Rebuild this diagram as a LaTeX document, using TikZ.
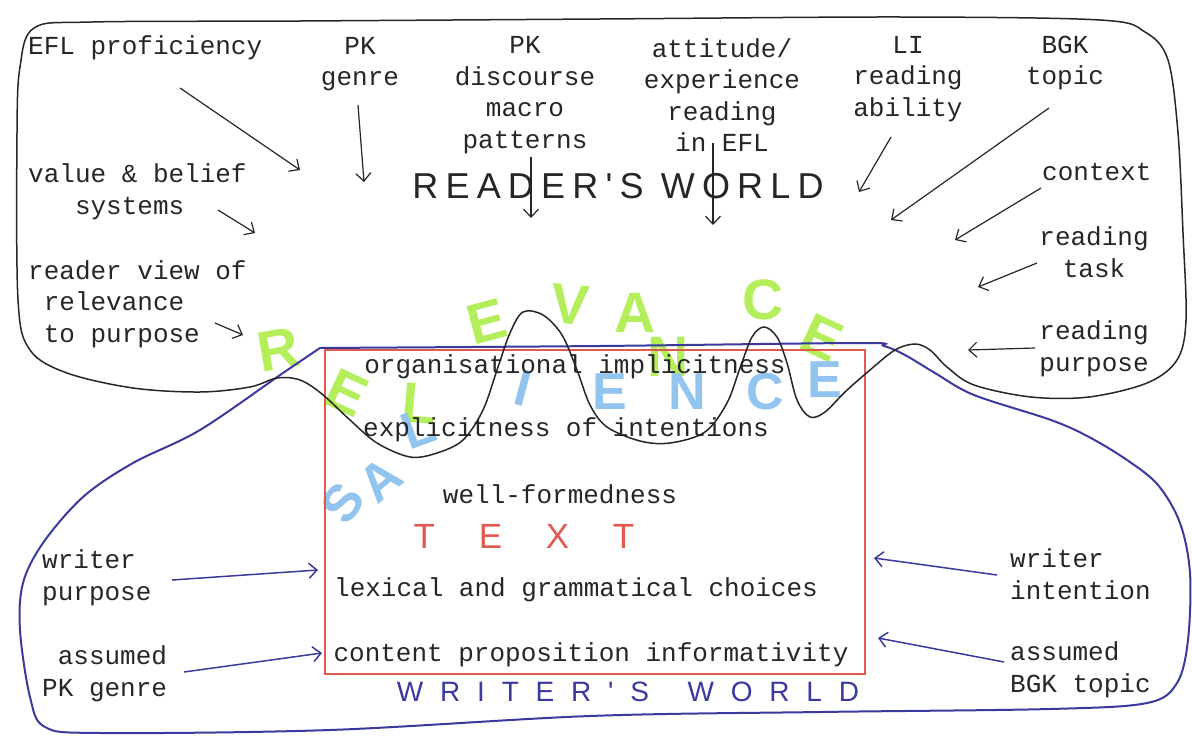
\documentclass[tikz,border=0pt]{standalone}
\usepackage{fontspec}
\setmonofont{Liberation Mono}
\newfontfamily\handfont{Liberation Sans}
\newfontfamily\markerfont{Liberation Sans Bold}
\usepackage{tikz}
\usetikzlibrary{calc, positioning, arrows.meta}
\tikzset{>={Straight Barb[length=8pt,width=15pt]}}
\definecolor{myred}{HTML}{E05A52}
\definecolor{myblue}{HTML}{3A3A9E}
\definecolor{mygreen}{HTML}{B4EE5A}
\definecolor{mysky}{HTML}{92C4F0}
\definecolor{myink}{HTML}{262626}
\tikzset{
	lbl/.style={font=\ttfamily\fontsize{26}{31.5}\selectfont, text=myink, inner sep=0pt},
	hand/.style={font=\handfont\fontsize{#1}{#1}\selectfont, inner sep=0pt},
	relv/.style={font=\markerfont\fontsize{57}{57}\selectfont, text=mygreen, inner sep=0pt},
	sali/.style={font=\markerfont\fontsize{52}{52}\selectfont, text=mysky, inner sep=0pt},
	inkarrow/.style={->, myink, line width=1.2pt},
	penarrow/.style={->, myblue, line width=1.5pt},
}

\begin{document}
\begin{tikzpicture}[x=1pt, y=-1pt]
			\useasboundingbox (0,0) rectangle (1192,736);
			\node (r1) [relv, rotate=10] at (278,350) {R};
			\node (r2) [relv, rotate=-25] at (347,393) {E};
			\node (r3) [relv, rotate=-5] at (420,403) {L};
			\node (r4) [relv, rotate=15] at (487,322) {E};
			\node (r5) [relv, rotate=-5] at (570,305) {V};
			\node (r6) [relv] at (635,313) {A};
			\node (r7) [relv] at (668,357) {N};
			\node (r8) [relv] at (763,300) {C};
			\node (r9) [relv, rotate=-25] at (822,338) {E};
			\node (s1) [sali, rotate=55] at (343,503) {S};
			\node (s2) [sali, rotate=40] at (380,480) {A};
			\node (s3) [sali, rotate=20] at (418,428) {L};
			\node (s4) [sali, rotate=-15] at (523,388) {I};
			\node (s5) [sali] at (610,392) {E};
			\node (s6) [sali] at (687,392) {N};
			\node (s7) [sali] at (765,392) {C};
			\node (s8) [sali] at (825,380) {E};
			\draw [myred, line width=1.3pt] (325,350) rectangle (865,674);
			\draw [myblue, line width=2pt] plot [smooth, tension=0.55] coordinates {(320,348) (600,346) (860,343) (884,346) (905,355) (935,373) (974,395) (1051,420) (1089,437) (1127,460) (1158,485) (1180,523) (1190,573) (1188,640) (1177,683) (1147,703) (1050,709) (820,712) (590,716) (330,730) (100,733) (45,727) (30,697) (20,630) (23,583) (43,543) (83,497) (133,463) (200,430) (283,373) (320,348)};
			\draw [myink, line width=1.5pt] plot [smooth cycle, tension=0.55] coordinates {(34,28) (92,22) (300,21) (600,19) (900,17) (1100,20) (1145,32) (1168,60) (1178,133) (1183,233) (1186,320) (1177,360) (1147,383) (1089,397) (1031,397) (974,385) (947,367) (930,350) (915,344) (895,350) (870,370) (845,392) (825,412) (810,417) (797,400) (787,363) (777,337) (764,327) (752,337) (740,368) (727,403) (705,432) (670,443) (640,441) (607,427) (590,405) (577,370) (562,335) (543,315) (523,312) (510,333) (498,367) (483,410) (463,440) (437,453) (410,457) (377,443) (350,420) (322,394) (300,380) (277,378) (250,387) (200,392) (133,388) (67,373) (30,350) (18,300) (17,133) (20,67)};
			\node (readers) [hand=36, text=myink] at (618,186) {\addfontfeature{LetterSpace=20}READER'S WORLD};
			\node (text) [hand=35, text=myred] at (524,536) {\addfontfeature{LetterSpace=125}TEXT};
			\node (writers) [hand=28, text=myblue] at (628,692) {\addfontfeature{LetterSpace=60}WRITER'S\hspace{14pt} WORLD};
			\node (efl) [lbl, anchor=west] at (28,48) {EFL proficiency};
			\node (pkg) [lbl, align=center] at (360,64) {PK\\genre};
			\node (pkd) [lbl, align=center] at (525,95) {PK\\discourse\\macro\\patterns};
			\node (att) [lbl, align=center] at (722,95) {attitude/\\experience\\reading\\in EFL};
			\node (li) [lbl, align=center] at (908,79) {LI\\reading\\ability};
			\node (bgk) [lbl, align=center] at (1065,63) {BGK\\topic};
			\node (val) [lbl, anchor=west, align=left] at (28,192) {value \& belief\\\hphantom{val}systems};
			\node (rvr) [lbl, anchor=west, align=left] at (28,304) {reader view of\\\hphantom{r}relevance\\\hphantom{r}to purpose};
			\node (ctx) [lbl, anchor=west] at (1042,172) {context};
			\node (task) [lbl, align=center] at (1094,252) {reading\\task};
			\node (purp) [lbl, align=center] at (1094,349) {reading\\purpose};
			\node (org) [lbl] at (575,367) {organisational implicitness};
			\node (expl) [lbl] at (566,430) {explicitness of intentions};
			\node (wf) [lbl] at (560,494) {well-formedness};
			\node (lex) [lbl] at (576,590) {lexical and grammatical choices};
			\node (cont) [lbl] at (591,655) {content proposition informativity};
			\node (wpur) [lbl, anchor=west, align=left] at (42,578) {writer\\purpose};
			\node (apk) [lbl, anchor=west, align=left] at (42,674) {\hphantom{a}assumed\\PK genre};
			\node (wint) [lbl, anchor=west, align=left] at (1010,574) {writer\\intention};
			\node (abgk) [lbl, anchor=west, align=left] at (1010,670) {assumed\\BGK topic};
			\coordinate (efl-t) at (180,88);
			\coordinate (efl-h) at (300,170);
			\coordinate (pkg-t) at (358,105);
			\coordinate (pkg-h) at (364,182);
			\coordinate (pkd-t) at (531,157);
			\coordinate (pkd-h) at (531,218);
			\coordinate (att-t) at (713,143);
			\coordinate (att-h) at (713,225);
			\coordinate (li-t) at (891,137);
			\coordinate (li-h) at (859,192);
			\coordinate (bgk-t) at (1049,108);
			\coordinate (bgk-h) at (891,220);
			\coordinate (ctx-t) at (1041,188);
			\coordinate (ctx-h) at (955,240);
			\coordinate (task-t) at (1037,263);
			\coordinate (task-h) at (978,287);
			\coordinate (purp-t) at (1035,348);
			\coordinate (purp-h) at (968,350);
			\coordinate (val-t) at (218,210);
			\coordinate (val-h) at (255,233);
			\coordinate (rvr-t) at (215,323);
			\coordinate (rvr-h) at (243,335);
			\coordinate (wpur-t) at (172,580);
			\coordinate (wpur-h) at (318,570);
			\coordinate (apk-t) at (184,672);
			\coordinate (apk-h) at (322,653);
			\coordinate (wint-t) at (997,575);
			\coordinate (wint-h) at (874,558);
			\coordinate (abgk-t) at (1004,662);
			\coordinate (abgk-h) at (878,638);
			\foreach \a in {efl, pkg, pkd, att, li, bgk, ctx, task, purp, val, rvr}
				\draw [inkarrow] (\a-t) -- (\a-h);
			\foreach \a in {wpur, apk, wint, abgk}
				\draw [penarrow] (\a-t) -- (\a-h);
		\end{tikzpicture}
\end{document}
